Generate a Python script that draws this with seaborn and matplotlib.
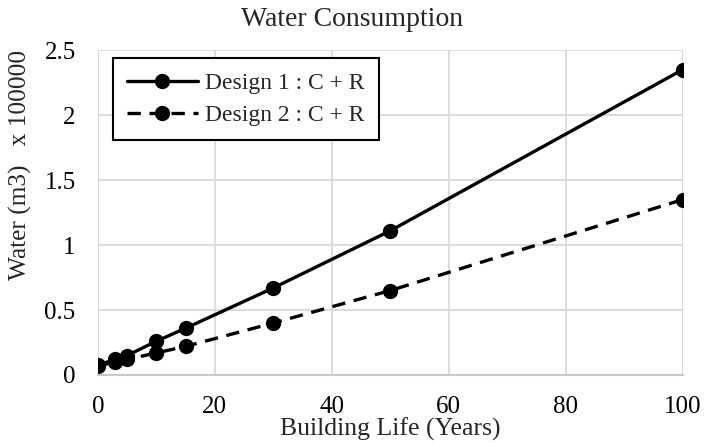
import numpy as np
import pandas as pd
import matplotlib
matplotlib.use("Agg")
import matplotlib.pyplot as plt
import seaborn as sns

# ---------------------------------------------------------
# DATA (units of 100000 m3)
# ---------------------------------------------------------
years = [0, 3, 5, 10, 15, 30, 50, 100]
design1 = [0.077, 0.12, 0.15, 0.26, 0.36, 0.67, 1.11, 2.35]
design2 = [0.07, 0.10, 0.12, 0.17, 0.22, 0.40, 0.65, 1.35]
series_names = ["Design 1 : C + R", "Design 2 : C + R"]
x_ticks = [0, 20, 40, 60, 80, 100]
y_ticks = [0, 0.5, 1, 1.5, 2, 2.5]
y_tick_labels = ["0", "0.5", "1", "1.5", "2", "2.5"]

df = pd.DataFrame({
    "year": years * 2,
    "water": design1 + design2,
    "series": [series_names[0]] * len(years) + [series_names[1]] * len(years),
})

sns.set_theme(style="white")
plt.rcParams["font.family"] = ["Liberation Serif", "DejaVu Serif"]

fig = plt.figure(figsize=(7.04, 4.43), dpi=100)
ax = fig.add_axes([0.139, 0.1535, 0.831, 0.7335])

sns.lineplot(
    data=df, x="year", y="water", hue="series", style="series",
    palette=["black", "black"], dashes=["", (4, 2.6)],
    markers=["o", "o"], markersize=11, markeredgewidth=0,
    linewidth=2.4, ax=ax, sort=True,
)

ax.set_xlim(0, 100)
ax.set_ylim(0, 2.5)
ax.set_xticks(x_ticks)
ax.set_yticks(y_ticks)
ax.set_yticklabels(y_tick_labels)
ax.grid(True, color="#d9d9d9", linewidth=1.3)
ax.set_axisbelow(True)
for side in ["top", "right", "left"]:
    ax.spines[side].set_visible(False)
ax.spines["bottom"].set_color("#c8c8c8")
ax.spines["bottom"].set_linewidth(1.5)
ax.tick_params(axis="both", length=0, labelsize=18, colors="black")
ax.tick_params(axis="x", pad=15)
ax.tick_params(axis="y", pad=16)

fig.suptitle("Water Consumption", fontsize=20, x=0.5, y=0.985)
ax.set_xlabel("Building Life (Years)", fontsize=18.5, labelpad=0)
ax.set_ylabel("")
fig.text(20 / 704, 1 - 165 / 443, "Water (m3)   x 100000", fontsize=18.3,
         rotation=90, ha="center", va="center")

leg = ax.legend(
    loc="upper left", bbox_to_anchor=(0.0256, 0.975), fontsize=17,
    frameon=True, fancybox=False, edgecolor="black", framealpha=1,
    handlelength=3.0, handletextpad=0.3, borderpad=0.6, labelspacing=0.45,
    borderaxespad=0,
)
leg.get_frame().set_linewidth(1.5)

fig.savefig("out.png", dpi=100)
